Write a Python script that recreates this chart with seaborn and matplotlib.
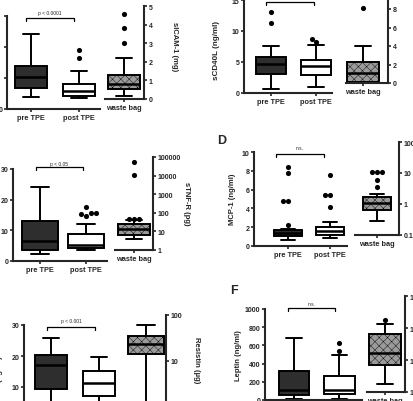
import seaborn as sns
import pandas as pd
import matplotlib.pyplot as plt
from matplotlib.ticker import NullLocator

groups = ['pre TPE', 'post TPE']
bag = ['waste bag']

# box summaries: whisker low, q1, median, q3, whisker high
icam_pre = [0.39, 0.68, 1.03, 1.39, 2.42]
icam_post = [0.35, 0.42, 0.58, 0.81, 1.23]
icam_post_out = [1.65, 1.9]
icam_bag = [0.16, 0.54, 0.81, 1.29, 2.2]
icam_bag_out = [3.0, 3.8, 4.57]

cd40_pre = [0.6, 3.1, 4.7, 5.8, 7.6]
cd40_pre_out = [11.3, 13.1]
cd40_post = [0.9, 2.9, 4.4, 5.3, 7.7]
cd40_post_out = [8.2, 8.7]
cd40_bag = [0.0, 0.15, 1.1, 2.3, 4.0]
cd40_bag_out = [8.1]

tnf_pre = [2.3, 3.6, 6.5, 13.0, 24.1]
tnf_post = [3.6, 4.2, 5.2, 8.8, 12.0]
tnf_post_out = [14.7, 15.2, 15.6, 15.6, 17.6]
tnf_bag = [3.9, 6.4, 13.5, 25, 41]
tnf_bag_out = [46, 46, 46, 10700, 54000]

mcp_pre = [0.61, 1.03, 1.38, 1.67, 1.84]
mcp_pre_out = [2.27, 4.8, 4.8, 7.8, 8.4]
mcp_post = [0.85, 1.2, 1.56, 1.99, 2.52]
mcp_post_out = [4.15, 5.46, 5.46, 7.6]
mcp_bag = [0.28, 0.64, 1.08, 1.7, 2.15]
mcp_bag_out = [3.5, 6.1, 10.8, 10.8, 10.8]

res_pre = [2.0, 9.4, 17.1, 20.3, 25.8]
res_post = [2.0, 7.1, 11.3, 15.2, 19.7]
res_bag = [1.1, 14.2, 23.4, 35, 61]

lep_pre = [10, 55, 110, 319, 681]
lep_post = [10, 66, 110, 264, 495]
lep_post_out = [538, 626]
lep_bag = [17.8, 70, 165, 650, 1330]
lep_bag_out = [1780]

# tick values and labels
icam_ticks, icam_labels = [0, 1, 2, 3], ['0', '', '', '']
icam_bag_ticks = [0, 1, 2, 3, 4, 5]
cd40_ticks = [0, 5, 10, 15]
cd40_bag_ticks = [0, 2, 4, 6, 8, 10]
tnf_ticks = [0, 10, 20, 30]
tnf_bag_ticks = [1, 10, 100, 1000, 10000, 100000]
mcp_ticks = [0, 2, 4, 6, 8, 10]
mcp_bag_ticks, mcp_bag_labels = [0.1, 1, 10, 100], ['0.1', '1', '10', '100']
res_ticks = [0, 10, 20, 30]
res_bag_ticks = [1, 10, 100]
lep_ticks = [0, 200, 400, 600, 800, 1000]
lep_bag_ticks = [10, 100, 1000, 10000]

W, H = 414, 402
box_colors = {'pre TPE': '#2e2e2e', 'post TPE': 'white', 'waste bag': '#9a9a9a'}

sns.set_style('ticks')
plt.rcParams['font.family'] = ['Liberation Sans', 'DejaVu Sans']
plt.rcParams['font.weight'] = 'bold'
plt.rcParams['hatch.linewidth'] = 0.3

fig = plt.figure(figsize=(W / 100, H / 100), dpi=100)


def make_ax(x_from, x_to, c0, unit, ytop, ybot):
    # axes placed in pixel units, category 0 centred at c0
    ax = fig.add_axes([x_from / W, 1 - ybot / H, (x_to - x_from) / W, (ybot - ytop) / H])
    ax.patch.set_alpha(0)
    return ax, ((x_from - c0) / unit, (x_to - c0) / unit)


def boxes(ax, cats, summaries, outliers, width, xlim, ylim, ticks, labels=None, side='left', log=False):
    if log:
        ax.set_yscale('log')
    df = pd.DataFrame([(c, v) for c, s in zip(cats, summaries) for v in s], columns=['group', 'value'])
    sns.boxplot(data=df, x='group', y='value', hue='group', order=cats, hue_order=cats,
                palette=box_colors, saturation=1, whis=(0, 100), showfliers=False, width=width,
                linecolor='black', linewidth=1.4, legend=False, ax=ax,
                medianprops={'linewidth': 1.8})
    if cats == bag:
        for p in ax.patches:
            p.set_hatch('xxxx')
    pts = [(c, v) for c, o in zip(cats, outliers) for v in o]
    if pts:
        od = pd.DataFrame(pts, columns=['group', 'value'])
        sns.swarmplot(data=od, x='group', y='value', order=cats, color='black', size=3.7, ax=ax)
    ax.set_xlim(*xlim)
    ax.set_ylim(*ylim)
    if labels is None:
        labels = [str(t) for t in ticks]
    ax.set_yticks(ticks, labels=labels)
    ax.yaxis.set_minor_locator(NullLocator())
    ax.set_xlabel('')
    ax.set_ylabel('')
    ax.spines['top'].set_visible(False)
    if side == 'left':
        ax.spines['right'].set_visible(False)
    else:
        ax.spines['left'].set_visible(False)
        ax.yaxis.tick_right()
    for s in ax.spines.values():
        s.set_linewidth(1.5)
    ax.tick_params(length=2.2, width=1.2, pad=1.0, labelsize=5)
    ax.tick_params(axis='x', labelsize=5.3, pad=1.5)


def bracket(ax, x0, x1, y, drop, text=None, ty=None):
    ax.plot([x0, x0, x1, x1], [y - drop, y, y, y - drop], color='black', lw=0.9, clip_on=False)
    if text:
        ax.text((x0 + x1) / 2, ty, text, ha='center', va='center', fontsize=3.5, fontweight='normal')


def label(x, y, s, **kw):
    fig.text(x / W, 1 - y / H, s, ha='center', va='center', **kw)


# A - sICAM-1
ax, xl = make_ax(7, 100, 31, 48, 17, 110)
boxes(ax, groups, [icam_pre, icam_post], [[], icam_post_out], 0.67, xl, (0, 3), icam_ticks, icam_labels)
bracket(ax, -0.1, 0.9, 2.94, 0.1, 'p < 0.0001', 3.12)
ax, xl = make_ax(105, 144, 124, 48, 7, 100)
boxes(ax, bag, [icam_bag], [icam_bag_out], 0.67, xl, (0, 5), icam_bag_ticks, side='right')
label(175, 47, 'sICAM-1 (mg)', rotation=270, fontsize=5.5)

# B - sCD40L
ax, xl = make_ax(244, 332, 271, 45, 1, 94)
boxes(ax, groups, [cd40_pre, cd40_post], [cd40_pre_out, cd40_post_out], 0.67, xl, (0, 15), cd40_ticks)
bracket(ax, -0.11, 0.96, 14.7, 0.5)
ax, xl = make_ax(346, 388, 363, 45, -8.5, 84)
boxes(ax, bag, [cd40_bag], [cd40_bag_out], 0.7, xl, (0, 10), cd40_bag_ticks, side='right')
label(217, 50, 'sCD40L (ng/ml)', rotation=90, fontsize=5.8)
label(416, 30, 'sCD40L (µg)', rotation=270, fontsize=5.5)

# C - sTNF-R
ax, xl = make_ax(13, 107, 40, 46, 170, 262)
boxes(ax, groups, [tnf_pre, tnf_post], [[], tnf_post_out], 0.78, xl, (0, 30), tnf_ticks)
bracket(ax, -0.09, 0.93, 30.6, 1.0, 'p < 0.05', 31.8)
ax, xl = make_ax(115, 153, 134, 46, 158, 251)
boxes(ax, bag, [tnf_bag], [tnf_bag_out], 0.7, xl, (1, 1e5), tnf_bag_ticks, side='right', log=True)
label(187, 204, 'sTNF-R (pg)', rotation=270, fontsize=5.5)

# D - MCP-1
label(222, 141, 'D', fontsize=9)
ax, xl = make_ax(254, 347, 288, 42, 153, 247)
boxes(ax, groups, [mcp_pre, mcp_post], [mcp_pre_out, mcp_post_out], 0.68, xl, (0, 10), mcp_ticks)
bracket(ax, -0.29, 0.86, 9.8, 0.3, 'n.s.', 10.5)
ax, xl = make_ax(355, 399, 377, 42, 143, 236)
boxes(ax, bag, [mcp_bag], [mcp_bag_out], 0.66, xl, (0.1, 100), mcp_bag_ticks, mcp_bag_labels, side='right', log=True)
label(232, 199, 'MCP-1 (ng/ml)', rotation=90, fontsize=5.5)

# E - Resistin
ax, xl = make_ax(24, 118, 51, 48, 326, 419)
boxes(ax, groups, [res_pre, res_post], [[], []], 0.67, xl, (0, 30), res_ticks)
bracket(ax, -0.08, 0.92, 29.4, 0.9, 'p < 0.001', 31.5)
ax, xl = make_ax(122, 166, 146, 48, 316, 408)
boxes(ax, bag, [res_bag], [[]], 0.75, xl, (1, 100), res_bag_ticks, side='right', log=True)
label(197, 360, 'Resistin (µg)', rotation=270, fontsize=5.5)
label(0, 385, 'Resistin (ng/ml)', rotation=90, fontsize=5.5)

# F - Leptin
label(234, 291, 'F', fontsize=9)
ax, xl = make_ax(265, 362, 294, 45.5, 310, 401)
boxes(ax, groups, [lep_pre, lep_post], [[], lep_post_out], 0.66, xl, (0, 1000), lep_ticks)
bracket(ax, -0.13, 0.9, 1011, 30, 'n.s.', 1065)
ax, xl = make_ax(367, 405, 385, 45.5, 297, 393)
boxes(ax, bag, [lep_bag], [lep_bag_out], 0.7, xl, (10, 1e4), lep_bag_ticks, side='right', log=True)
label(239, 356, 'Leptin (ng/ml)', rotation=90, fontsize=5.5)

fig.savefig('out.png', dpi=100)
